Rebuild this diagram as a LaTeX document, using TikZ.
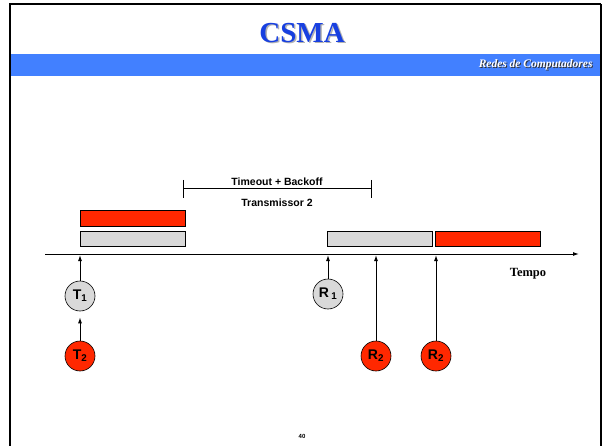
\documentclass[tikz,border=0pt]{standalone}
\usepackage{fontspec}
\setmainfont{Liberation Serif}
\setsansfont{Liberation Sans}
\usepackage{tikz}
\usetikzlibrary{arrows.meta, positioning, calc}

\definecolor{bandblue}{RGB}{66,128,255}
\definecolor{titleblue}{RGB}{24,64,224}
\definecolor{framered}{RGB}{255,40,0}
\definecolor{framegray}{RGB}{217,217,217}

\begin{document}
\begin{tikzpicture}[
  x=1pt, y=-1pt,
  bar/.style    = {draw, line width=1pt, minimum width=105pt, minimum height=15pt, inner sep=0pt},
  redbar/.style = {bar, fill=framered},
  graybar/.style= {bar, fill=framegray},
  stn/.style    = {draw, circle, semithick, minimum size=30pt, inner sep=0pt,
                   font=\sffamily\bfseries\fontsize{14}{14}\selectfont},
  arrow/.style  = {line width=1pt, -{Latex[length=6pt,width=4pt]}},
  lbl/.style    = {font=\sffamily\bfseries\fontsize{10.5}{11}\selectfont}
]
  \useasboundingbox (0,0) rectangle (604,446);

  % slide frame and header
  \fill[bandblue] (10,54) rectangle (601,76);
  \draw[line width=2.5pt] (10,446) -- (10,4) -- (601,4);
  \draw[line width=1.8pt] (601,4) -- (601,446);
  \node[text=gray!60, font=\bfseries\fontsize{29}{30}\selectfont] at (303.5,34.5) {CSMA};
  \node[text=titleblue, font=\bfseries\fontsize{29}{30}\selectfont] (title) at (302,33) {CSMA};
  \node[anchor=east, text=black!80, font=\bfseries\itshape\fontsize{11.5}{12}\selectfont] at (597,66) {Redes de Computadores};
  \node[anchor=east, text=white, font=\bfseries\itshape\fontsize{11.5}{12}\selectfont] (course) at (596,65) {Redes de Computadores};

  % time axis
  \coordinate (axL) at (45,254);
  \coordinate (axR) at (579,254);
  \draw[arrow] (axL) -- (axR);
  \node[font=\bfseries\fontsize{12.5}{13}\selectfont] (tempo) at (528,274) {Tempo};

  % frames on the medium
  \node[redbar]  (t2frame) at (132.5,218.5) {};
  \node[graybar] (t1frame) at (132.5,238.5) {};
  \node[graybar] (r1frame) at (379.5,238.5) {};
  \node[redbar]  (r2frame) at (488,238.5) {};

  % timeout + backoff interval
  \coordinate (toA) at (183,189);
  \coordinate (toB) at (371,189);
  \draw[line width=1pt] (toA) -- node[lbl, above=0pt] {Timeout + Backoff}
                               node[lbl, below=6pt] {Transmissor 2} (toB);
  \draw[line width=1pt] ($(toA)+(0,-9)$) -- ($(toA)+(0,9)$);
  \draw[line width=1pt] ($(toB)+(0,-9)$) -- ($(toB)+(0,9)$);

  % stations
  \node[stn, fill=framegray] (t1) at (80,296) {T\textsubscript{1}};
  \node[stn, fill=framered]  (t2) at (80,356) {T\textsubscript{2}};
  \node[stn, fill=framegray] (r1) at (328,294) {R\,\textsubscript{1}};
  \node[stn, fill=framered]  (r2a) at (376,356) {R\textsubscript{2}};
  \node[stn, fill=framered]  (r2b) at (436,356) {R\textsubscript{2}};

  % events
  \draw[arrow] (t1.north) -- ([yshift=-1pt]t1.north |- axL);
  \draw[arrow] (t2.north) -- ([yshift=-6pt]t1.south);
  \draw[arrow] (r1.north) -- ([yshift=-1pt]r1.north |- axL);
  \draw[arrow] (r2a.north) -- ([yshift=-1pt]r2a.north |- axL);
  \draw[arrow] (r2b.north) -- ([yshift=-1pt]r2b.north |- axL);

  % page number
  \node[font=\sffamily\bfseries\fontsize{6}{6}\selectfont] (page) at (302,436) {40};
\end{tikzpicture}
\end{document}
